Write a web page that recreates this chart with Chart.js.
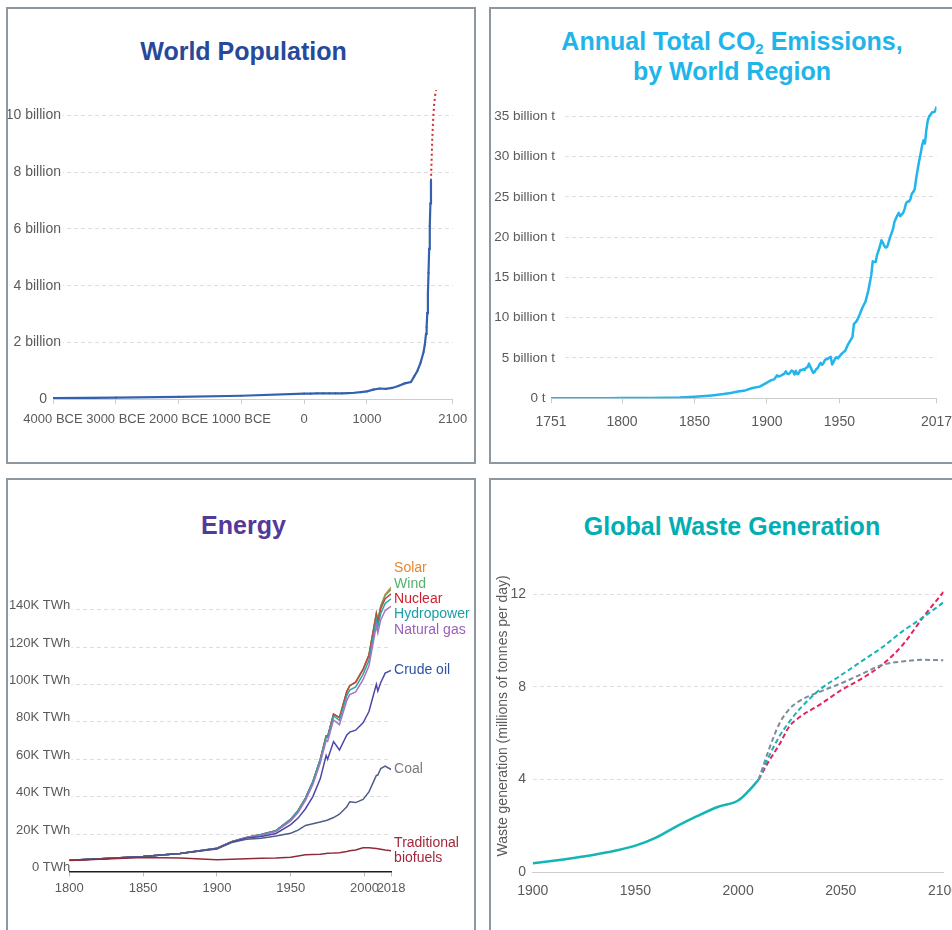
<!DOCTYPE html>
<html><head><meta charset="utf-8">
<script src="https://cdn.jsdelivr.net/npm/chart.js@4.4.0/dist/chart.umd.min.js"></script>
<style>
html,body{margin:0;padding:0;background:#fff;}
body{width:952px;height:930px;overflow:hidden;position:relative;font-family:'Liberation Sans',Arial,sans-serif;}
.panel{position:absolute;box-sizing:border-box;border:2px solid #8d979f;}
.title{position:absolute;text-align:center;font-weight:bold;font-size:25px;line-height:30px;white-space:nowrap;}
.sub{font-size:15px;line-height:0;vertical-align:-4px;}
canvas{position:absolute;}
</style></head><body>
<div class="panel" style="left:6px;top:7px;width:470px;height:457px"></div>
<div class="panel" style="left:489px;top:7px;width:486px;height:457px"></div>
<div class="panel" style="left:6px;top:478px;width:470px;height:470px"></div>
<div class="panel" style="left:489px;top:478px;width:486px;height:470px"></div>
<div class="title" style="left:0;width:487px;top:36px;color:#27499a">World Population</div>
<div class="title" style="left:490px;width:484px;top:26px;color:#1fb4ea">Annual Total CO<span class="sub">2</span> Emissions,<br>by World Region</div>
<div class="title" style="left:0;width:487px;top:510px;color:#54389b">Energy</div>
<div class="title" style="left:490px;width:484px;top:511px;color:#00aeb3">Global Waste Generation</div>
<canvas id="c1" width="466" height="453" style="left:8px;top:9px"></canvas>
<canvas id="c2" width="461" height="453" style="left:491px;top:9px"></canvas>
<canvas id="c3" width="466" height="450" style="left:8px;top:480px"></canvas>
<canvas id="c4" width="461" height="450" style="left:491px;top:480px"></canvas>
<script>
// ================= DATA =================
// World population (billions)
const popYears = [-4000,-3000,-2000,-1000,0,100,200,300,400,500,600,700,800,900,1000,1100,1200,1300,1400,1500,1600,1700,1750,1800,1850,1900,1920,1940,1950,1960,1970,1980,1990,2000,2010,2019];
const popValues = [0.028,0.045,0.072,0.115,0.19,0.19,0.2,0.2,0.2,0.2,0.2,0.21,0.22,0.24,0.27,0.33,0.37,0.36,0.39,0.46,0.55,0.6,0.79,0.98,1.26,1.65,1.9,2.3,2.53,3.03,3.7,4.45,5.3,6.1,6.9,7.7];
const popProjYears = [2019,2030,2040,2050,2060,2070,2080,2090,2100];
const popProjValues = [7.7,8.5,9.2,9.7,10.1,10.4,10.6,10.8,10.9];
const popXTickValues = [-4000,-3000,-2000,-1000,0,1000,2365];
const popXTickLabels = ['4000 BCE','3000 BCE','2000 BCE','1000 BCE','0','1000','2100'];
const popYTickValues = [0,2,4,6,8,10];
const popYTickLabels = ['0','2 billion','4 billion','6 billion','8 billion','10 billion'];

// Annual CO2 emissions (billion t)
const co2Years = [1751,1760,1770,1780,1790,1800,1810,1820,1830,1840,1850,1855,1860,1865,1870,1875,1880,1885,1890,1895,1900,1903,1905,1907,1908,1910,1912,1913,1914,1915,1916,1917,1918,1919,1920,1921,1922,1923,1924,1925,1926,1927,1928,1929,1930,1931,1932,1933,1934,1935,1936,1937,1938,1939,1940,1941,1942,1943,1944,1945,1946,1947,1948,1949,1950,1952,1954,1956,1958,1959,1960,1962,1964,1966,1968,1970,1972,1973,1974,1975,1976,1977,1978,1979,1980,1981,1982,1983,1984,1985,1986,1987,1988,1989,1990,1991,1992,1993,1994,1995,1996,1997,1998,1999,2000,2001,2002,2003,2004,2005,2006,2007,2008,2009,2010,2011,2012,2013,2014,2015,2016,2017];
const co2Values = [0.009,0.010,0.012,0.015,0.020,0.028,0.035,0.045,0.067,0.11,0.197,0.26,0.33,0.42,0.52,0.65,0.85,0.98,1.28,1.45,1.95,2.25,2.35,2.85,2.7,2.85,3.05,3.35,3.05,3.0,3.2,3.45,3.35,2.95,3.4,3.0,3.1,3.5,3.5,3.6,3.55,3.8,3.85,4.3,3.9,3.5,3.15,3.3,3.6,3.75,4.1,4.4,4.15,4.35,4.75,4.85,4.9,5.05,5.15,4.2,4.5,4.9,5.1,4.95,5.2,5.6,5.9,6.7,7.3,7.6,9.2,9.6,10.4,11.3,12.0,13.4,15.3,17.0,16.9,16.9,17.8,18.3,18.9,19.6,19.3,18.9,18.7,18.8,19.4,20.0,20.5,21.0,21.9,22.3,22.7,23.0,22.6,22.8,23.0,23.5,24.2,24.4,24.4,24.7,25.4,25.6,26.0,27.3,28.4,29.4,30.3,31.3,32.0,31.6,33.3,34.5,35.0,35.2,35.5,35.5,35.6,36.2];
const co2XTickValues = [1751,1800,1850,1900,1950,2017];
const co2YTickValues = [0,5,10,15,20,25,30,35];
const co2YTickLabels = ['0 t','5 billion t','10 billion t','15 billion t','20 billion t','25 billion t','30 billion t','35 billion t'];

// Energy consumption by source (thousand TWh), stacked
const energyYears = [1800,1825,1850,1875,1900,1910,1920,1930,1940,1950,1955,1960,1965,1970,1974,1975,1979,1983,1988,1990,1994,1999,2003,2008,2009,2011,2014,2018];
const energyBiofuels = [5.8,6.6,7.4,7.2,6.2,6.5,6.8,7.0,7.2,7.6,8.2,8.85,9.0,9.2,9.6,9.7,9.8,10.0,10.6,11.0,11.5,12.6,12.6,12.2,12.1,11.9,11.5,11.1];
const energyCoal = [0.1,0.3,0.6,2.4,5.8,8.9,10.4,10.7,11.7,12.8,13.9,15.75,16.5,17.2,17.6,17.8,19.0,20.6,23.9,26.2,25.3,25.9,29.9,39.1,39.4,43.1,44.8,43.4];
const energyOil = [0,0,0,0,0.2,0.3,0.6,1.0,1.4,4.6,6.4,8.9,14.5,23.1,34.8,32.5,40.6,34.3,38.5,37.3,38.7,41.0,43.0,48.7,45.0,46.0,49.7,53.0];
const energyGas = [0,0,0,0,0.1,0.1,0.2,0.6,1.0,2.0,3.0,4.5,6.5,8.5,8.0,9.5,11.6,13.6,18.5,20.0,20.5,23.0,24.5,31.5,31.0,33.5,33.5,34.3];
const energyHydro = [0,0,0,0,0.05,0.1,0.2,0.4,0.5,0.9,1.0,1.2,1.4,1.7,1.9,2.0,2.1,2.3,2.5,2.5,2.7,2.9,2.9,3.2,3.2,3.5,3.8,4.0];
const energyNuclear = [0,0,0,0,0,0,0,0,0,0,0,0.02,0.07,0.2,0.5,0.6,1.0,1.4,2.2,2.3,2.5,2.6,2.7,2.7,2.7,2.6,2.5,2.6];
const energyWind = [0,0,0,0,0,0,0,0,0,0,0,0,0,0,0,0,0,0,0.01,0.01,0.02,0.06,0.17,0.6,0.75,1.2,1.8,2.4];
const energySolar = [0,0,0,0,0,0,0,0,0,0,0,0,0,0,0,0,0,0,0,0,0,0,0.003,0.04,0.06,0.2,0.5,1.1];
const energySeriesNames = ['Traditional\nbiofuels','Coal','Crude oil','Natural gas','Hydropower','Nuclear','Wind','Solar'];
const energyXTickValues = [1800,1850,1900,1950,2000,2018];
const energyYTickValues = [0,20,40,60,80,100,120,140];
const energyYTickLabels = ['0 TWh','20K TWh','40K TWh','60K TWh','80K TWh','100K TWh','120K TWh','140K TWh'];

// Global waste generation (millions of tonnes per day)
const wasteHistYears = [1900,1910,1920,1930,1940,1950,1960,1970,1980,1990,2000,2005,2010];
const wasteHistValues = [0.39,0.5,0.62,0.76,0.93,1.15,1.5,1.98,2.42,2.82,3.1,3.5,4.0];
const wasteProjYears = [2010,2015,2020,2025,2030,2040,2050,2060,2070,2080,2090,2100];
const wasteProjRed = [4.0,4.8,5.5,6.3,6.7,7.25,7.85,8.35,8.95,9.8,11.0,12.1];
const wasteProjTeal = [4.0,5.0,5.85,6.5,7.05,7.9,8.5,9.1,9.7,10.4,11.0,11.65];
const wasteProjGray = [4.0,5.3,6.4,7.05,7.4,7.8,8.15,8.55,8.95,9.1,9.17,9.15];
const wasteXTickValues = [1900,1950,2000,2050,2100];
const wasteYTickValues = [0,4,8,12];
const wasteYTickLabels = ['0','4','8','12'];

// ================= HELPERS =================
const FONT = "'Liberation Sans', Arial, sans-serif";
const TICK_COLOR = '#5a5a5a';
const GRID_COLOR = '#dedede';
const AXIS_COLOR = '#cdcdcd';
const pts = (xs, ys) => xs.map((x, i) => ({x: x, y: ys[i]}));
const fixedTicks = (values) => (scale) => { scale.ticks = values.map(v => ({value: v})); };
const fitY = (w) => (s) => {
  s.width = w; s.paddingTop = 0; s.paddingBottom = 0;
  s._computeLabelArea = () => undefined; // let labels overhang the plot edge like the original
};
const fitX = (h) => (s) => { s.height = h; s.paddingLeft = 0; s.paddingRight = 0; };
const labelFrom = (values, labels, zeroPad) => (v) => {
  const i = values.indexOf(v);
  if (i < 0) return '';
  return (v === 0 && zeroPad) ? labels[i] + zeroPad : labels[i];
};
const noZeroGrid = (ctx) => (ctx.tick && ctx.tick.value === 0) ? 'rgba(0,0,0,0)' : GRID_COLOR;
const backdrop = (ctx) => (ctx.tick && ctx.tick.value === 0) ? 'rgba(0,0,0,0)' : '#ffffff';
const common = {responsive: false, animation: false, events: [], plugins: {legend: {display: false}, tooltip: {enabled: false}}};

// ---------- Chart 1: World Population ----------
new Chart(document.getElementById('c1'), {
  type: 'line',
  data: {datasets: [
    {data: pts(popYears, popValues), borderColor: '#3461ad', backgroundColor: '#3461ad', borderWidth: 2.2, pointRadius: 1.1, pointBorderWidth: 0, tension: 0},
    {data: pts(popProjYears, popProjValues), borderColor: '#d42a2a', borderWidth: 2, borderDash: [2, 3], pointRadius: 0, tension: 0}
  ]},
  options: Object.assign({}, common, {
    layout: {padding: {left: 0, top: 78.3, right: 21.3, bottom: 0}},
    scales: {
      x: {type: 'linear', min: -4000, max: 2365, afterBuildTicks: fixedTicks(popXTickValues), afterFit: fitX(63),
        grid: {drawOnChartArea: false, drawTicks: true, tickLength: 5, color: AXIS_COLOR},
        border: {display: true, color: AXIS_COLOR, width: 1},
        ticks: {autoSkip: false, maxRotation: 0, minRotation: 0, padding: 7.6, color: TICK_COLOR, font: {family: FONT, size: 13}, callback: labelFrom(popXTickValues, popXTickLabels)}},
      y: {type: 'linear', min: 0, max: 11, afterBuildTicks: fixedTicks(popYTickValues), afterFit: fitY(45),
        grid: {drawTicks: false, color: noZeroGrid, lineWidth: 1},
        border: {display: false, dash: [4, 3]},
        ticks: {autoSkip: false, padding: -8, color: TICK_COLOR, font: {family: FONT, size: 14},
          showLabelBackdrop: true, backdropColor: backdrop, backdropPadding: {top: 0, bottom: 0, left: 1, right: 2},
          callback: labelFrom(popYTickValues, popYTickLabels, '\u2003')}}
    }
  })
});

// ---------- Chart 2: CO2 ----------
new Chart(document.getElementById('c2'), {
  type: 'line',
  data: {datasets: [
    {data: pts(co2Years, co2Values), borderColor: '#22b5ec', borderWidth: 2.5, pointRadius: 0, tension: 0, borderJoinStyle: 'round'}
  ]},
  options: Object.assign({}, common, {
    layout: {padding: {left: 0, top: 96.7, right: 15.5, bottom: 0}},
    scales: {
      x: {type: 'linear', min: 1751, max: 2017, afterBuildTicks: fixedTicks(co2XTickValues), afterFit: fitX(63.7),
        grid: {drawOnChartArea: false, drawTicks: true, tickLength: 5, color: AXIS_COLOR},
        border: {display: true, color: AXIS_COLOR, width: 1},
        ticks: {autoSkip: false, maxRotation: 0, minRotation: 0, padding: 10, color: TICK_COLOR, font: {family: FONT, size: 14}, callback: (v) => String(v)}},
      y: {type: 'linear', min: 0, max: 36.3, afterBuildTicks: fixedTicks(co2YTickValues), afterFit: fitY(60),
        grid: {drawTicks: false, color: noZeroGrid, lineWidth: 1},
        border: {display: false, dash: [4, 3]},
        ticks: {autoSkip: false, padding: -4, color: TICK_COLOR, font: {family: FONT, size: 13.5},
          showLabelBackdrop: true, backdropColor: backdrop, backdropPadding: {top: 0, bottom: 0, left: 1, right: 8},
          callback: labelFrom(co2YTickValues, co2YTickLabels, '\u2002\u2009')}}
    }
  })
});

// ---------- Chart 3: Energy ----------
const endLabels = {
  id: 'endLabels',
  afterDatasetsDraw(chart) {
    const ctx = chart.ctx;
    const lh = 15.3, offsetY = 0;
    const items = chart.data.datasets.map((ds, i) => {
      const meta = chart.getDatasetMeta(i);
      const pt = meta.data[meta.data.length - 1];
      const lines = ds.label.split('\n');
      return {lines: lines, color: ds.labelColor, y: pt.y + offsetY, h: lines.length * lh};
    }).sort((a, b) => a.y - b.y);
    let clusters = items.map(it => ({items: [it], center: it.y, h: it.h}));
    let merged = true;
    while (merged) {
      merged = false;
      for (let i = 0; i < clusters.length - 1; i++) {
        const a = clusters[i], b = clusters[i + 1];
        if (a.center + a.h / 2 > b.center - b.h / 2) {
          const its = a.items.concat(b.items);
          const center = its.reduce((s, it) => s + it.y, 0) / its.length;
          clusters.splice(i, 2, {items: its, center: center, h: a.h + b.h});
          merged = true;
          break;
        }
      }
    }
    ctx.save();
    ctx.font = '14px ' + FONT;
    ctx.textBaseline = 'middle';
    ctx.textAlign = 'left';
    const x = chart.chartArea.right + 3;
    clusters.forEach(c => {
      let top = c.center - c.h / 2 + (c.items.length > 1 ? 4 : 0);
      c.items.forEach(it => {
        ctx.fillStyle = it.color;
        it.lines.forEach((ln, k) => ctx.fillText(ln, x, top + lh * (k + 0.5)));
        top += it.h;
      });
    });
    ctx.restore();
  }
};
const energySeries = [energyBiofuels, energyCoal, energyOil, energyGas, energyHydro, energyNuclear, energyWind, energySolar];
const energyLineColors = ['#8e2c3c', '#4c5d87', '#4b47a8', '#a474c4', '#2aa5a3', '#c8443a', '#5aa96a', '#d9893a'];
const energyLabelColors = ['#a1283c', '#7a7a7a', '#2c52a6', '#9c5fb8', '#1a9ea6', '#d01f2c', '#55b06e', '#e8872c'];
new Chart(document.getElementById('c3'), {
  type: 'line',
  plugins: [endLabels],
  data: {datasets: energySeries.map((vals, i) => ({
    label: energySeriesNames[i], labelColor: energyLabelColors[i],
    data: pts(energyYears, vals), borderColor: energyLineColors[i], borderWidth: 1.5,
    pointRadius: 0, tension: 0, fill: false
  }))},
  options: Object.assign({}, common, {
    layout: {padding: {left: 0, top: 101.55, right: 82.9, bottom: 0}},
    scales: {
      x: {type: 'linear', min: 1800, max: 2018, afterBuildTicks: fixedTicks(energyXTickValues), afterFit: fitX(58.6),
        grid: {drawOnChartArea: false, drawTicks: true, tickLength: 5, color: '#bdbdbd'},
        border: {display: true, color: '#1e1e1e', width: 1.5},
        ticks: {autoSkip: false, maxRotation: 0, minRotation: 0, padding: 4, color: TICK_COLOR, font: {family: FONT, size: 13}, callback: (v) => String(v)}},
      y: {type: 'linear', stacked: true, min: 0, max: 155, afterBuildTicks: fixedTicks(energyYTickValues), afterFit: fitY(61.3),
        grid: {drawTicks: false, color: noZeroGrid, lineWidth: 1},
        border: {display: false, dash: [4, 3]},
        ticks: {autoSkip: false, padding: -1, labelOffset: -4, color: TICK_COLOR, font: {family: FONT, size: 13},
          showLabelBackdrop: true, backdropColor: backdrop, backdropPadding: {top: 0, bottom: 0, left: 1, right: 1},
          callback: labelFrom(energyYTickValues, energyYTickLabels)}}
    }
  })
});

// ---------- Chart 4: Waste ----------
new Chart(document.getElementById('c4'), {
  type: 'line',
  data: {datasets: [
    {data: pts(wasteProjYears, wasteProjGray), borderColor: '#7b8d9c', borderWidth: 2, borderDash: [5, 3], pointRadius: 0, cubicInterpolationMode: 'monotone'},
    {data: pts(wasteProjYears, wasteProjTeal), borderColor: '#17b3b5', borderWidth: 2, borderDash: [5, 3], pointRadius: 0, cubicInterpolationMode: 'monotone'},
    {data: pts(wasteProjYears, wasteProjRed), borderColor: '#e3235a', borderWidth: 2, borderDash: [5, 3], pointRadius: 0, cubicInterpolationMode: 'monotone'},
    {data: pts(wasteHistYears, wasteHistValues), borderColor: '#14b5b5', borderWidth: 2.5, pointRadius: 0, cubicInterpolationMode: 'monotone'}
  ]},
  options: Object.assign({}, common, {
    layout: {padding: {left: 0, top: 79.5, right: 8.5, bottom: 0}},
    scales: {
      x: {type: 'linear', min: 1900, max: 2100, afterBuildTicks: fixedTicks(wasteXTickValues), afterFit: fitX(57.7),
        grid: {drawOnChartArea: false, drawTicks: false, color: AXIS_COLOR},
        border: {display: true, color: AXIS_COLOR, width: 1},
        ticks: {autoSkip: false, maxRotation: 0, minRotation: 0, padding: 10, color: TICK_COLOR, font: {family: FONT, size: 14}, callback: (v) => String(v)}},
      y: {type: 'linear', min: 0, max: 13.5, afterBuildTicks: fixedTicks(wasteYTickValues), afterFit: fitY(41.7),
        grid: {drawTicks: false, color: noZeroGrid, lineWidth: 1},
        border: {display: false, dash: [4, 3]},
        title: {display: true, text: 'Waste generation (millions of tonnes per day)', color: TICK_COLOR, font: {family: FONT, size: 14}, padding: {top: 3.3, bottom: 0}},
        ticks: {autoSkip: false, padding: 6.7, color: TICK_COLOR, font: {family: FONT, size: 14}, callback: labelFrom(wasteYTickValues, wasteYTickLabels)}}
    }
  })
});
</script>
</body></html>
